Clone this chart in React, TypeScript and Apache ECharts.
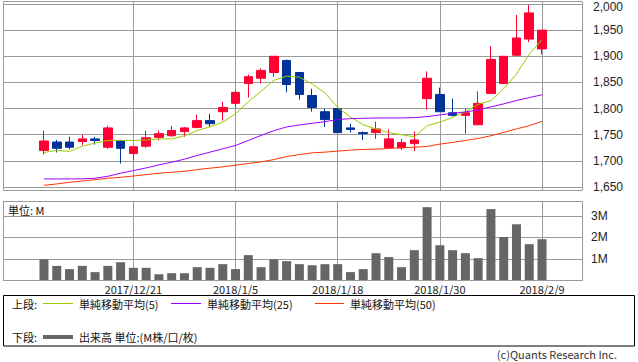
import React, { useEffect, useRef } from 'react';
import * as echarts from 'echarts';

const dates = [
  '2017/12/12', '2017/12/13', '2017/12/14', '2017/12/15', '2017/12/18', '2017/12/19', '2017/12/20', '2017/12/21',
  '2017/12/22', '2017/12/25', '2017/12/26', '2017/12/27', '2017/12/28', '2017/12/29', '2018/1/4', '2018/1/5',
  '2018/1/9', '2018/1/10', '2018/1/11', '2018/1/12', '2018/1/15', '2018/1/16', '2018/1/17', '2018/1/18',
  '2018/1/19', '2018/1/22', '2018/1/23', '2018/1/24', '2018/1/25', '2018/1/26', '2018/1/29', '2018/1/30',
  '2018/1/31', '2018/2/1', '2018/2/2', '2018/2/5', '2018/2/6', '2018/2/7', '2018/2/8', '2018/2/9',
];
const openP = [1720, 1736, 1736, 1737, 1742, 1726, 1739, 1714, 1728, 1745, 1748, 1756, 1764, 1777, 1794, 1810, 1848, 1858, 1869, 1892, 1869, 1825, 1794, 1800, 1763, 1754, 1754, 1725, 1725, 1733, 1819, 1827, 1792, 1787, 1769, 1829, 1848, 1902, 1933, 1914];
const closeP = [1738, 1724, 1726, 1742, 1739, 1763, 1724, 1727, 1744, 1752, 1758, 1763, 1777, 1771, 1802, 1831, 1861, 1873, 1900, 1846, 1827, 1802, 1779, 1754, 1760, 1752, 1761, 1742, 1735, 1740, 1858, 1794, 1787, 1792, 1810, 1894, 1900, 1935, 1983, 1950];
const lowP = [1712, 1716, 1722, 1730, 1731, 1723, 1695, 1701, 1725, 1739, 1746, 1746, 1762, 1765, 1777, 1802, 1821, 1848, 1861, 1831, 1817, 1794, 1765, 1754, 1754, 1740, 1742, 1725, 1721, 1719, 1798, 1794, 1785, 1752, 1769, 1829, 1848, 1900, 1927, 1904];
const highP = [1758, 1740, 1746, 1750, 1746, 1767, 1740, 1728, 1758, 1758, 1767, 1765, 1788, 1790, 1813, 1835, 1865, 1877, 1900, 1894, 1870, 1838, 1800, 1800, 1771, 1756, 1775, 1760, 1742, 1756, 1871, 1840, 1819, 1800, 1833, 1919, 1900, 1979, 1998, 1950];
const ma5 = [1716, 1720, 1718, 1728, 1734, 1739, 1739, 1739, 1740, 1742, 1742, 1748, 1758, 1765, 1774, 1790, 1813, 1833, 1854, 1862, 1860, 1847, 1830, 1802, 1784, 1769, 1761, 1754, 1750, 1746, 1767, 1774, 1783, 1794, 1808, 1815, 1838, 1866, 1904, 1932];
const ma25 = [1665.4, 1665.4, 1665.4, 1665.6, 1666.7, 1670.5, 1676.3, 1681.4, 1686.5, 1692.3, 1697.4, 1703.2, 1710.3, 1716.7, 1723, 1729.5, 1739, 1748.7, 1757.7, 1764.8, 1768.6, 1771.8, 1775, 1778.8, 1780.8, 1781.4, 1782, 1782, 1782, 1782.7, 1784.6, 1787.9, 1791, 1793.6, 1797.4, 1803.2, 1809, 1815.4, 1821, 1826.3];
const ma50 = [1653.2, 1655.8, 1659, 1661.5, 1664, 1666.7, 1668.6, 1671, 1673.7, 1676.3, 1678.2, 1680, 1683.3, 1686, 1688.5, 1691.7, 1694.9, 1698, 1702.5, 1708.3, 1712, 1715.4, 1716.7, 1718.6, 1720.5, 1721.8, 1722.4, 1723.7, 1725, 1726, 1727.6, 1732, 1735.3, 1739, 1742.9, 1748, 1754.4, 1761, 1767.3, 1775.6];
const volumeM = [0.99, 0.68, 0.53, 0.68, 0.39, 0.68, 0.85, 0.59, 0.59, 0.29, 0.34, 0.34, 0.62, 0.59, 0.76, 0.53, 1.18, 0.62, 0.99, 0.9, 0.76, 0.71, 0.76, 0.76, 0.39, 0.53, 1.27, 1.09, 0.62, 1.41, 3.41, 1.64, 1.41, 1.27, 1.04, 3.32, 2.02, 2.62, 1.69, 1.92];
const labelDates = ['2017/12/21', '2018/1/5', '2018/1/18', '2018/1/30', '2018/2/9'];
const legendNames = ['単純移動平均(5)', '単純移動平均(25)', '単純移動平均(50)'];

const FONT = '"Noto Sans CJK JP", "Noto Sans", sans-serif';
const NUM_FONT = '"Liberation Sans", Arial, sans-serif';
const GRID_COLOR = '#9a9a9a';
const UP = '#ff0033';
const DOWN = '#003399';
const C5 = '#99cc00';
const C25 = '#9900ff';
const C50 = '#ff3300';

export default function App() {
  const ref = useRef<HTMLDivElement>(null);
  useEffect(() => {
    const chart = echarts.init(ref.current!, null, { renderer: 'svg' });
    const candles = dates.map((_, i) => [openP[i], closeP[i], lowP[i], highP[i]]);
    const pxPerUnit = 183 / 350;
    const vline = (z: number) => ({
      silent: true,
      symbol: ['none', 'none'],
      z,
      label: { show: false },
      lineStyle: { color: GRID_COLOR, type: 'solid', width: 1 },
      emphasis: { disabled: true },
      data: labelDates.map((d) => ({ xAxis: d })),
    });
    const txt = (text: string, x: number, y: number, extra: any = {}) => ({
      type: 'text',
      style: { text, x, y, fill: '#111', font: `11px ${FONT}`, textVerticalAlign: 'middle', ...extra },
      z: 10,
    });
    const seg = (x1: number, x2: number, y: number, color: string, w: number) => ({
      type: 'line',
      shape: { x1, y1: y, x2, y2: y },
      style: { stroke: color, lineWidth: w },
      z: 10,
    });
    const option: any = {
      animation: false,
      backgroundColor: '#fff',
      grid: [
        { left: 3, top: 4, width: 579, height: 183, show: false },
        { left: 37.6, top: 1, width: 510.8, height: 189, show: false },
        { left: 3, top: 201.5, width: 579, height: 79, show: false },
        { left: 37.6, top: 201.5, width: 510.8, height: 79, show: false },
      ],
      xAxis: [
        { gridIndex: 0, type: 'value', min: 0, max: 1, show: false },
        { gridIndex: 1, type: 'category', data: dates, boundaryGap: true, show: false },
        { gridIndex: 2, type: 'value', min: 0, max: 1, show: false },
        {
          gridIndex: 3, type: 'category', data: dates, boundaryGap: true,
          axisLine: { show: false }, axisTick: { show: false }, splitLine: { show: false },
          axisLabel: {
            interval: (i: number) => labelDates.includes(dates[i]),
            margin: 3, fontSize: 11, fontFamily: FONT, color: '#222',
          },
        },
      ],
      yAxis: [
        {
          gridIndex: 0, type: 'value', position: 'right', min: 1650, max: 2000, interval: 50,
          axisLine: { show: false }, axisTick: { show: false },
          splitLine: { show: true, lineStyle: { color: GRID_COLOR, width: 1 } },
          axisLabel: {
            margin: 11, fontSize: 12, fontFamily: NUM_FONT, color: '#222',
            formatter: (v: number) => (v === 2000 ? `{top|${v.toLocaleString('en-US')}}` : v.toLocaleString('en-US')),
            rich: { top: { padding: [6, 0, 0, 0], fontSize: 12, fontFamily: NUM_FONT, color: '#222' } },
          },
        },
        { gridIndex: 1, type: 'value', min: 1650 - 3 / pxPerUnit, max: 2000 + 3 / pxPerUnit, show: false },
        {
          gridIndex: 2, type: 'value', position: 'right', min: 0, max: 3.674, interval: 1,
          axisLine: { show: false }, axisTick: { show: false },
          splitLine: { show: true, lineStyle: { color: GRID_COLOR, width: 1 } },
          axisLabel: {
            margin: 9, fontSize: 12, fontFamily: NUM_FONT, color: '#222', showMinLabel: false, showMaxLabel: false,
            formatter: (v: number) => (v === 0 || v > 3.5 ? '' : `${v}M`),
          },
        },
        { gridIndex: 3, type: 'value', min: 0, max: 3.674, show: false },
      ],
      series: [
        {
          type: 'candlestick', xAxisIndex: 1, yAxisIndex: 1, data: candles, barWidth: 9,
          itemStyle: { color: UP, color0: DOWN, borderColor: UP, borderColor0: DOWN, borderWidth: 1 },
          markLine: vline(1),
          z: 3,
        },
        { type: 'line', name: legendNames[0], xAxisIndex: 1, yAxisIndex: 1, data: ma5, symbol: 'none', lineStyle: { color: C5, width: 1 }, z: 4 },
        { type: 'line', name: legendNames[1], xAxisIndex: 1, yAxisIndex: 1, data: ma25, symbol: 'none', lineStyle: { color: C25, width: 1 }, z: 4 },
        { type: 'line', name: legendNames[2], xAxisIndex: 1, yAxisIndex: 1, data: ma50, symbol: 'none', lineStyle: { color: C50, width: 1 }, z: 4 },
        {
          type: 'bar', xAxisIndex: 3, yAxisIndex: 3, data: volumeM, barWidth: 9,
          itemStyle: { color: '#666666' }, markLine: vline(1), z: 3,
        },
      ],
      graphic: [
        { type: 'rect', shape: { x: 3.5, y: 1.5, width: 579, height: 189 }, style: { fill: 'none', stroke: GRID_COLOR, lineWidth: 1 }, z: 10 },
        { type: 'rect', shape: { x: 3.5, y: 201.5, width: 579, height: 79 }, style: { fill: 'none', stroke: GRID_COLOR, lineWidth: 1 }, z: 10 },
        txt('単位: M', 8, 210),
        { type: 'rect', shape: { x: 3.5, y: 295.5, width: 631, height: 50.5 }, style: { fill: 'none', stroke: '#000', lineWidth: 1 }, z: 10 },
        txt('上段:', 12, 303.5),
        seg(43, 73, 303.5, C5, 1),
        txt(legendNames[0], 79, 303.5),
        seg(171, 201, 303.5, C25, 1),
        txt(legendNames[1], 207, 303.5),
        seg(315, 344, 303.5, C50, 1),
        txt(legendNames[2], 350, 303.5),
        txt('下段:', 12, 337),
        seg(43, 73, 337, '#666666', 4),
        txt('出来高 単位:(M株/口/枚)', 79, 337),
        txt('(c)Quants Research Inc.', 617, 354, { textAlign: 'right', fill: '#333' }),
      ],
    };
    chart.setOption(option);
    return () => chart.dispose();
  }, []);
  return (
    <div
      ref={ref}
      style={{ position: 'fixed', left: 0, top: 0, width: 638, height: 362, background: '#fff' }}
    />
  );
}
